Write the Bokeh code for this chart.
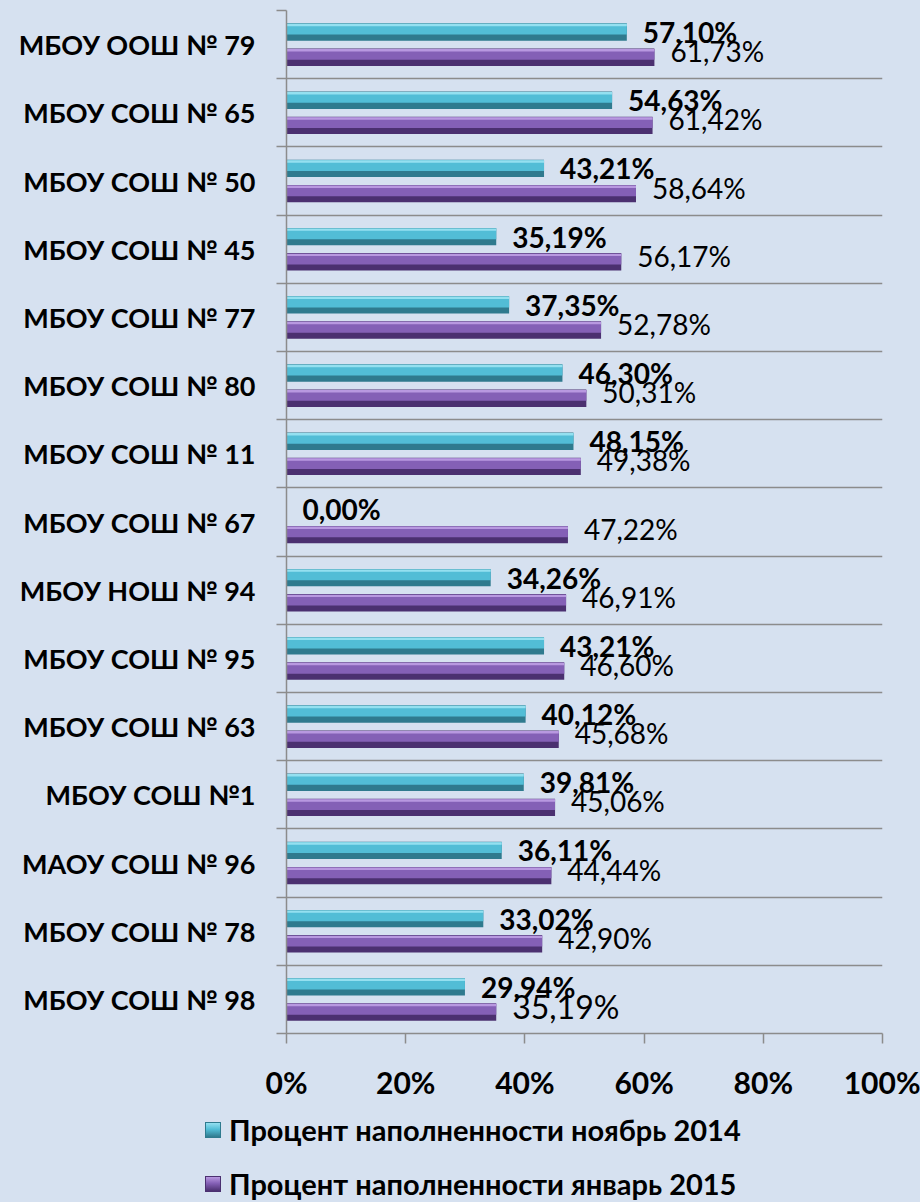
from bokeh.plotting import figure
from bokeh.layouts import column
from bokeh.models import ColumnDataSource, FixedTicker, Div
from bokeh.core.properties import value
from bokeh.embed import file_html
from bokeh.resources import INLINE

# ---- data (top to bottom as shown) ----
schools = ["МБОУ ООШ № 79", "МБОУ СОШ № 65", "МБОУ СОШ № 50", "МБОУ СОШ № 45",
           "МБОУ СОШ № 77", "МБОУ СОШ № 80", "МБОУ СОШ № 11", "МБОУ СОШ № 67",
           "МБОУ НОШ № 94", "МБОУ СОШ № 95", "МБОУ СОШ № 63", "МБОУ СОШ №1",
           "МАОУ СОШ № 96", "МБОУ СОШ № 78", "МБОУ СОШ № 98"]
nov2014 = [57.10, 54.63, 43.21, 35.19, 37.35, 46.30, 48.15, 0.00,
           34.26, 43.21, 40.12, 39.81, 36.11, 33.02, 29.94]
jan2015 = [61.73, 61.42, 58.64, 56.17, 52.78, 50.31, 49.38, 47.22,
           46.91, 46.60, 45.68, 45.06, 44.44, 42.90, 35.19]
series_names = ["Процент наполненности ноябрь 2014", "Процент наполненности январь 2015"]
x_ticks = [0, 20, 40, 60, 80, 100]

FONT = "Lato"
BG = "#D6E1F0"
GRID = "#8C8C8C"
CYAN = ["#2F7A8E", "#52BDD6", "#94E0F0"]
PURP = ["#4B3070", "#8460B6", "#B898E0"]

n = len(schools)
ypos = [n - 1 - i for i in range(n)]
fmt = lambda v: f"{v:.2f}".replace(".", ",") + "%"

OFF = 0.185
H = 0.255

src_a = ColumnDataSource(dict(
    y=[y + OFF for y in ypos], x=nov2014, lab=[fmt(v) for v in nov2014],
    ym=[y + OFF + H * 0.16 for y in ypos], yt=[y + OFF + H * 0.4 for y in ypos]))
src_b = ColumnDataSource(dict(
    y=[y - OFF for y in ypos], x=jan2015, lab=[fmt(v) for v in jan2015],
    ym=[y - OFF + H * 0.16 for y in ypos], yt=[y - OFF + H * 0.4 for y in ypos]))

p = figure(width=920, height=1102, output_backend="svg", toolbar_location=None,
           x_range=(0, 100), y_range=(-0.5, n - 0.5),
           min_border_left=286, min_border_right=38, min_border_top=10, min_border_bottom=66)
p.background_fill_color = BG
p.border_fill_color = BG
p.outline_line_color = None

# bars with a simple bevel look
for src, cols in ((src_a, CYAN), (src_b, PURP)):
    p.hbar(y="y", right="x", left=0, height=H, source=src, fill_color=cols[0], line_color=None)
    p.hbar(y="ym", right="x", left=0, height=H * 0.62, source=src, fill_color=cols[1], line_color=None)
    p.hbar(y="yt", right="x", left=0, height=H * 0.14, source=src, fill_color=cols[2], line_color=None)

# value labels
p.text(x="x", y="y", text="lab", source=src_a, x_offset=16, y_offset=0,
       text_baseline="middle", text_align="left", text_font=value(FONT),
       text_font_size="28px", text_font_style="bold", text_color="#000000")
src_b_main = ColumnDataSource(dict(y=src_b.data["y"][:-1], x=jan2015[:-1], lab=src_b.data["lab"][:-1]))
src_b_last = ColumnDataSource(dict(y=src_b.data["y"][-1:], x=jan2015[-1:], lab=src_b.data["lab"][-1:]))
p.text(x="x", y="y", text="lab", source=src_b_main, x_offset=16, y_offset=-6,
       text_baseline="middle", text_align="left", text_font=value(FONT),
       text_font_size="28px", text_color="#000000")
p.text(x="x", y="y", text="lab", source=src_b_last, x_offset=16, y_offset=-6,
       text_baseline="middle", text_align="left", text_font=value(FONT),
       text_font_size="32px", text_color="#000000")

# axes
p.xaxis.ticker = FixedTicker(ticks=x_ticks)
p.xaxis.major_label_overrides = {t: f"{t}%" for t in x_ticks}
p.xaxis.major_tick_out = 10
p.xaxis.major_tick_in = 0
p.xaxis.minor_tick_out = 0
p.xaxis.axis_line_color = GRID
p.xaxis.axis_line_width = 1.5
p.xaxis.major_tick_line_color = GRID
p.xaxis.major_tick_line_width = 1.5
p.xaxis.major_label_text_font = FONT
p.xaxis.major_label_text_font_style = "bold"
p.xaxis.major_label_text_font_size = "30px"
p.xaxis.major_label_text_color = "#000000"
p.xaxis.major_label_standoff = 20

bounds = [k - 0.5 for k in range(n + 1)]
p.yaxis.ticker = FixedTicker(ticks=ypos, minor_ticks=bounds)
p.yaxis.major_label_overrides = {y: s for y, s in zip(ypos, schools)}
p.yaxis.major_tick_out = 0
p.yaxis.major_tick_in = 0
p.yaxis.minor_tick_out = 10
p.yaxis.minor_tick_in = 0
p.yaxis.minor_tick_line_color = GRID
p.yaxis.minor_tick_line_width = 1.5
p.yaxis.axis_line_color = GRID
p.yaxis.axis_line_width = 1.5
p.yaxis.major_label_text_font = FONT
p.yaxis.major_label_text_font_style = "bold"
p.yaxis.major_label_text_font_size = "27px"
p.yaxis.major_label_text_color = "#000000"
p.yaxis.major_label_standoff = 21

p.xgrid.visible = False
p.ygrid.ticker = FixedTicker(ticks=bounds)
p.ygrid.grid_line_color = GRID
p.ygrid.grid_line_width = 1.5

# legend strip below the chart
def legend_row(name, cols, top):
    sw = (f"display:inline-block;width:16px;height:16px;vertical-align:middle;"
          f"border:1px solid {cols[0]};margin-right:8px;"
          f"background:linear-gradient(to bottom,{cols[2]} 0%,{cols[1]} 45%,{cols[0]} 100%);")
    return (f"<div style='margin:{top}px 0 0 0;height:32px;line-height:32px;white-space:nowrap;"
            f"font-family:{FONT};font-weight:bold;font-size:29px;color:#000000;'>"
            f"<span style='{sw}'></span>"
            f"<span style='vertical-align:middle;'>{name}</span></div>")

html = ("<div style='padding:0 0 0 205px;margin:0;'>"
        + legend_row(series_names[0], CYAN, 8) + legend_row(series_names[1], PURP, 22)
        + "</div>")
legend_div = Div(text=html, width=920, height=100,
                 styles={"background-color": BG, "margin": "0", "overflow": "visible"})

layout = column(p, legend_div, spacing=0, styles={"background-color": BG})
open("out.html", "w").write(file_html(layout, INLINE))
